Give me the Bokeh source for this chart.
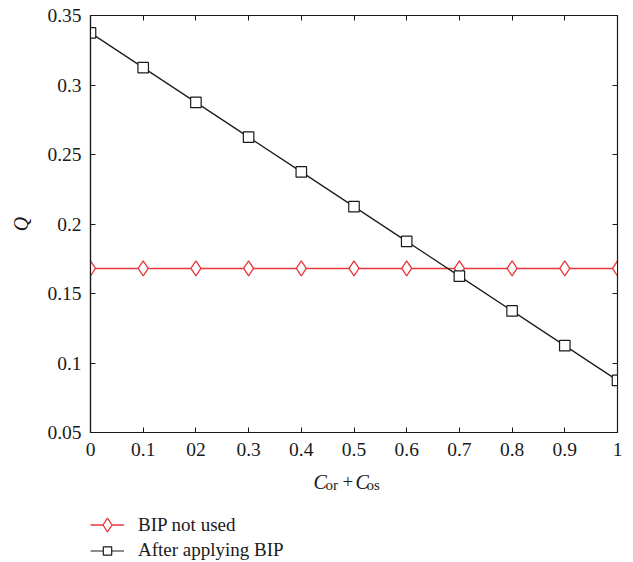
import numpy as np
from bokeh.plotting import figure
from bokeh.models import Range1d, LinearAxis, Legend, LegendItem, FixedTicker
from bokeh.layouts import column
from bokeh.core.properties import value
from bokeh.embed import file_html
from bokeh.resources import INLINE

x_vals = [0.0, 0.1, 0.2, 0.3, 0.4, 0.5, 0.6, 0.7, 0.8, 0.9, 1.0]
q_not_used = [0.168] * 11
q_after_bip = [0.3375, 0.3125, 0.2875, 0.2625, 0.2375, 0.2125, 0.1875, 0.1625, 0.1375, 0.1125, 0.0875]
x_ticks = [0, 0.1, 0.2, 0.3, 0.4, 0.5, 0.6, 0.7, 0.8, 0.9, 1]
x_tick_labels = {0: "0", 0.1: "0.1", 0.2: "02", 0.3: "0.3", 0.4: "0.4", 0.5: "0.5",
                 0.6: "0.6", 0.7: "0.7", 0.8: "0.8", 0.9: "0.9", 1: "1"}
y_ticks = [0.05, 0.1, 0.15, 0.2, 0.25, 0.3, 0.35]
legend_labels = ["BIP not used", "After applying BIP"]

FONT = "Liberation Serif"
RED = "#e8383c"
BLACK = "#1a1a1a"

p = figure(width=625, height=470, output_backend="svg", toolbar_location=None,
           x_range=Range1d(0, 1), y_range=Range1d(0.05, 0.35),
           min_border_left=90, min_border_top=15, min_border_right=8, min_border_bottom=38)
p.grid.visible = False
p.outline_line_color = BLACK
p.outline_line_width = 1.2

for ax in (p.xaxis[0], p.yaxis[0]):
    ax.major_tick_in = 5
    ax.major_tick_out = 0
    ax.minor_tick_in = 0
    ax.minor_tick_out = 0
    ax.axis_line_color = BLACK
    ax.axis_line_width = 1.2
    ax.major_tick_line_color = BLACK
    ax.major_label_text_font = FONT
    ax.major_label_text_font_size = "19.5px"
    ax.major_label_text_color = BLACK

p.xaxis[0].ticker = FixedTicker(ticks=x_ticks)
p.xaxis[0].major_label_overrides = x_tick_labels
p.xaxis[0].major_label_standoff = 10
p.yaxis[0].ticker = FixedTicker(ticks=y_ticks)
p.yaxis[0].major_label_standoff = 9
p.yaxis[0].axis_label = "Q"
p.yaxis[0].axis_label_text_font = FONT
p.yaxis[0].axis_label_text_font_size = "20px"
p.yaxis[0].axis_label_text_font_style = "italic"
p.yaxis[0].axis_label_text_color = BLACK
p.yaxis[0].axis_label_standoff = 12

top = LinearAxis(ticker=FixedTicker(ticks=x_ticks), major_tick_in=5, major_tick_out=0,
                 minor_tick_in=0, minor_tick_out=0,
                 major_label_overrides={t: "" for t in x_ticks},
                 axis_line_color=BLACK, major_tick_line_color=BLACK, major_label_standoff=0)
right = LinearAxis(ticker=FixedTicker(ticks=y_ticks), major_tick_in=5, major_tick_out=0,
                   minor_tick_in=0, minor_tick_out=0,
                   major_label_overrides={t: "" for t in y_ticks},
                   axis_line_color=BLACK, major_tick_line_color=BLACK, major_label_standoff=0)
p.add_layout(top, "above")
p.add_layout(right, "right")

p.line(x_vals, q_not_used, line_color=RED, line_width=1.3)
p.scatter(x_vals, q_not_used, marker="diamond", size=15, line_color=RED,
          fill_color="white", line_width=1.3)
p.line(x_vals, q_after_bip, line_color=BLACK, line_width=1.2)
p.scatter(x_vals, q_after_bip, marker="square", size=10.5, line_color=BLACK,
          fill_color="white", line_width=1.2)

# lower panel: x-axis title and legend (its frame is aligned with the main frame)
p2 = figure(width=625, height=92, output_backend="svg", toolbar_location=None,
            x_range=Range1d(0, 527), y_range=Range1d(0, 92),
            min_border_left=90, min_border_right=8, min_border_top=0, min_border_bottom=0)
p2.axis.visible = False
p2.grid.visible = False
p2.outline_line_color = None

# C_or + C_os   (x in px from the frame's left edge)
parts = [("C", "italic", "20px", 223, 81), ("or", "normal", "15px", 235, 78),
         ("+", "normal", "19px", 252, 81), ("C", "italic", "20px", 265, 81),
         ("os", "normal", "15px", 276, 78)]
for txt, style, size, px, py in parts:
    p2.text(x=[px], y=[py], text=[txt], text_font=value(FONT), text_font_size=size,
            text_font_style=style, text_align="left", text_baseline="alphabetic",
            text_color=BLACK)

nan = [np.nan]
l1 = p2.line(nan, nan, line_color=RED, line_width=1.3)
m1 = p2.scatter(nan, nan, marker="diamond", size=15, line_color=RED, fill_color="white", line_width=1.3)
l2 = p2.line(nan, nan, line_color=BLACK, line_width=1.2)
m2 = p2.scatter(nan, nan, marker="square", size=9, line_color=BLACK, fill_color="white", line_width=1.2)

common = dict(border_line_color=None, background_fill_alpha=0,
              label_text_font=FONT, label_text_font_size="19px", label_text_color=BLACK,
              glyph_width=34, label_height=22, label_standoff=14, padding=2, margin=0)
legend1 = Legend(items=[LegendItem(label=legend_labels[0], renderers=[l1, m1])],
                 location=(0, 20), glyph_height=35, **common)
legend2 = Legend(items=[LegendItem(label=legend_labels[1], renderers=[l2, m2])],
                 location=(0, 1), glyph_height=21, **common)
p2.add_layout(legend1, "center")
p2.add_layout(legend2, "center")

layout = column(p, p2, spacing=0)
open("out.html", "w").write(file_html(layout, INLINE))
